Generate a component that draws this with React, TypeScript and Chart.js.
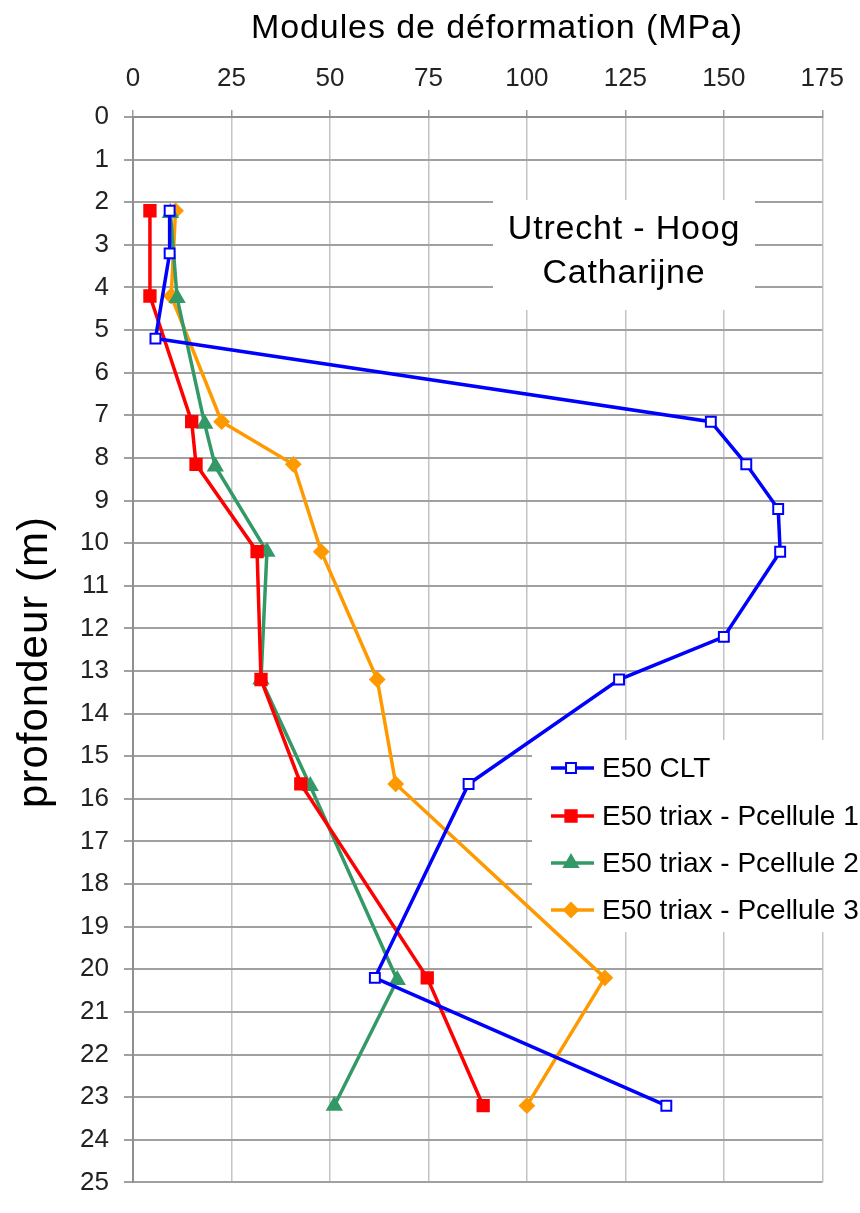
import React, { useEffect, useRef } from 'react';
import { Chart, registerables } from 'chart.js';

Chart.register(...registerables);

// ---- data ----
const depthCLT = [2.2, 3.2, 5.2, 7.15, 8.15, 9.2, 10.2, 12.2, 13.2, 15.65, 20.2, 23.2];
const modCLT = [9.3, 9.3, 5.7, 146.7, 155.7, 163.8, 164.3, 150.0, 123.4, 85.2, 61.4, 135.4];

const depthP1 = [2.2, 4.2, 7.15, 8.15, 10.2, 13.2, 15.65, 20.2, 23.2];
const modP1 = [4.3, 4.3, 14.9, 16.0, 31.5, 32.5, 42.6, 74.7, 88.9];

const depthP2 = [2.25, 4.25, 7.2, 8.2, 10.2, 13.2, 15.7, 20.25, 23.2];
const modP2 = [9.5, 11.2, 18.2, 20.9, 34.0, 32.5, 45.0, 67.1, 51.1];

const depthP3 = [2.2, 4.2, 7.15, 8.15, 10.2, 13.2, 15.65, 20.2, 23.2];
const modP3 = [10.8, 9.7, 22.5, 40.7, 47.8, 62.0, 66.7, 119.8, 100.0];

const seriesLabels = [
  'E50 CLT',
  'E50 triax - Pcellule 1',
  'E50 triax - Pcellule 2',
  'E50 triax - Pcellule 3',
];
const seriesColors = ['#0000FF', '#FF0000', '#339966', '#FF9900'];
const seriesStyles = ['rect', 'rect', 'triangle', 'rectRot'];
const seriesHollow = [true, false, false, false];
const seriesRadius = [7, 8, 8, 7];

const xMin = 0;
const xMax = 175;
const xStep = 25;
const yMin = 0;
const yMax = 25;
const yStep = 1;

const chartTitle = 'Modules de déformation (MPa)';
const yTitle = 'profondeur (m)';
const annotationLines = ['Utrecht - Hoog', 'Catharijne'];

const FONT = '"Liberation Sans", Arial, sans-serif';

function drawMarker(ctx: CanvasRenderingContext2D, style: string, x: number, y: number, r: number, color: string, hollow: boolean) {
  ctx.save();
  ctx.beginPath();
  if (style === 'rect') {
    const s = Math.SQRT1_2 * r;
    ctx.rect(x - s, y - s, 2 * s, 2 * s);
  } else if (style === 'triangle') {
    ctx.moveTo(x, y - r);
    ctx.lineTo(x + r * 0.866, y + r * 0.5);
    ctx.lineTo(x - r * 0.866, y + r * 0.5);
    ctx.closePath();
  } else {
    ctx.moveTo(x, y - r);
    ctx.lineTo(x + r, y);
    ctx.lineTo(x, y + r);
    ctx.lineTo(x - r, y);
    ctx.closePath();
  }
  ctx.fillStyle = hollow ? '#ffffff' : color;
  ctx.fill();
  ctx.lineWidth = 2;
  ctx.strokeStyle = color;
  ctx.stroke();
  ctx.restore();
}

const decorPlugin = {
  id: 'decor',
  beforeDatasetsDraw(chart: any) {
    const ctx: CanvasRenderingContext2D = chart.ctx;
    ctx.save();
    // annotation box
    ctx.fillStyle = '#ffffff';
    ctx.fillRect(493, 200, 262, 110);
    ctx.fillStyle = '#000000';
    ctx.font = `34px ${FONT}`;
    (ctx as any).letterSpacing = '0.8px';
    ctx.textAlign = 'center';
    ctx.textBaseline = 'alphabetic';
    ctx.fillText(annotationLines[0], 624, 239);
    ctx.fillText(annotationLines[1], 624, 283);
    (ctx as any).letterSpacing = '0px';

    // legend box
    ctx.fillStyle = '#ffffff';
    ctx.fillRect(532, 740, 328, 192);
    const rows = [768, 816, 863, 910];
    chart.data.datasets.forEach((ds: any, i: number) => {
      const y = rows[i];
      ctx.strokeStyle = seriesColors[i];
      ctx.lineWidth = 3.5;
      ctx.beginPath();
      ctx.moveTo(551, y);
      ctx.lineTo(594, y);
      ctx.stroke();
      drawMarker(ctx, seriesStyles[i], 571, y, seriesRadius[i], seriesColors[i], seriesHollow[i]);
      ctx.fillStyle = '#000000';
      ctx.font = `28px ${FONT}`;
      ctx.textAlign = 'left';
      ctx.textBaseline = 'middle';
      ctx.fillText(ds.label, 602, y + 1);
    });
    ctx.restore();
  },
  afterDraw(chart: any) {
    const ctx: CanvasRenderingContext2D = chart.ctx;
    ctx.save();
    ctx.fillStyle = '#000000';
    ctx.font = `34px ${FONT}`;
    (ctx as any).letterSpacing = '0.9px';
    ctx.textAlign = 'center';
    ctx.textBaseline = 'alphabetic';
    ctx.fillText(chartTitle, 497, 38);
    ctx.translate(47, 662);
    ctx.rotate(-Math.PI / 2);
    ctx.font = `42px ${FONT}`;
    (ctx as any).letterSpacing = '1px';
    ctx.fillText(yTitle, 0, 0);
    (ctx as any).letterSpacing = '0px';
    ctx.restore();
  },
};

function toPoints(xs: number[], ys: number[]) {
  return xs.map((x, i) => ({ x, y: ys[i] }));
}

export default function App() {
  const ref = useRef<HTMLCanvasElement | null>(null);

  useEffect(() => {
    if (!ref.current) return;
    const seriesData = [
      toPoints(modCLT, depthCLT),
      toPoints(modP1, depthP1),
      toPoints(modP2, depthP2),
      toPoints(modP3, depthP3),
    ];
    const chart = new Chart(ref.current, {
      type: 'line',
      data: {
        datasets: seriesData.map((d, i) => ({
          label: seriesLabels[i],
          data: d,
          borderColor: seriesColors[i],
          backgroundColor: seriesColors[i],
          borderWidth: 3.5,
          pointStyle: seriesStyles[i] as any,
          pointRadius: seriesRadius[i],
          pointHoverRadius: seriesRadius[i],
          pointBackgroundColor: seriesHollow[i] ? '#ffffff' : seriesColors[i],
          pointBorderColor: seriesColors[i],
          pointBorderWidth: 2,
          tension: 0,
          fill: false,
        })),
      },
      options: {
        animation: false,
        responsive: false,
        devicePixelRatio: 1,
        layout: { padding: { left: 0, top: 0, right: 36, bottom: 8 } },
        plugins: {
          legend: { display: false },
          tooltip: { enabled: false },
          title: { display: false },
        },
        scales: {
          x: {
            type: 'linear',
            position: 'top',
            min: xMin,
            max: xMax,
            afterFit: (s: any) => {
              s.height = 117;
            },
            ticks: {
              stepSize: xStep,
              autoSkip: false,
              maxRotation: 0,
              padding: 16,
              color: '#222222',
              font: { size: 26, family: FONT },
            },
            grid: {
              color: '#c4c4c4',
              lineWidth: 1.5,
              tickLength: 7,
              tickColor: '#9a9a9a',
            },
            border: { color: '#8f8f8f', width: 2 },
          },
          y: {
            type: 'linear',
            reverse: true,
            min: yMin,
            max: yMax,
            afterFit: (s: any) => {
              s.width = 133;
            },
            ticks: {
              stepSize: yStep,
              autoSkip: false,
              padding: 15,
              color: '#222222',
              font: { size: 26, family: FONT },
            },
            grid: {
              color: '#a0a0a0',
              lineWidth: 2,
              tickLength: 9,
            },
            border: { color: '#8f8f8f', width: 2 },
          },
        },
      },
      plugins: [decorPlugin],
    });
    return () => chart.destroy();
  }, []);

  return (
    <div style={{ position: 'absolute', left: 0, top: 0, width: 860, height: 1213, background: '#ffffff' }}>
      <canvas ref={ref} width={860} height={1213} style={{ display: 'block' }} />
    </div>
  );
}
